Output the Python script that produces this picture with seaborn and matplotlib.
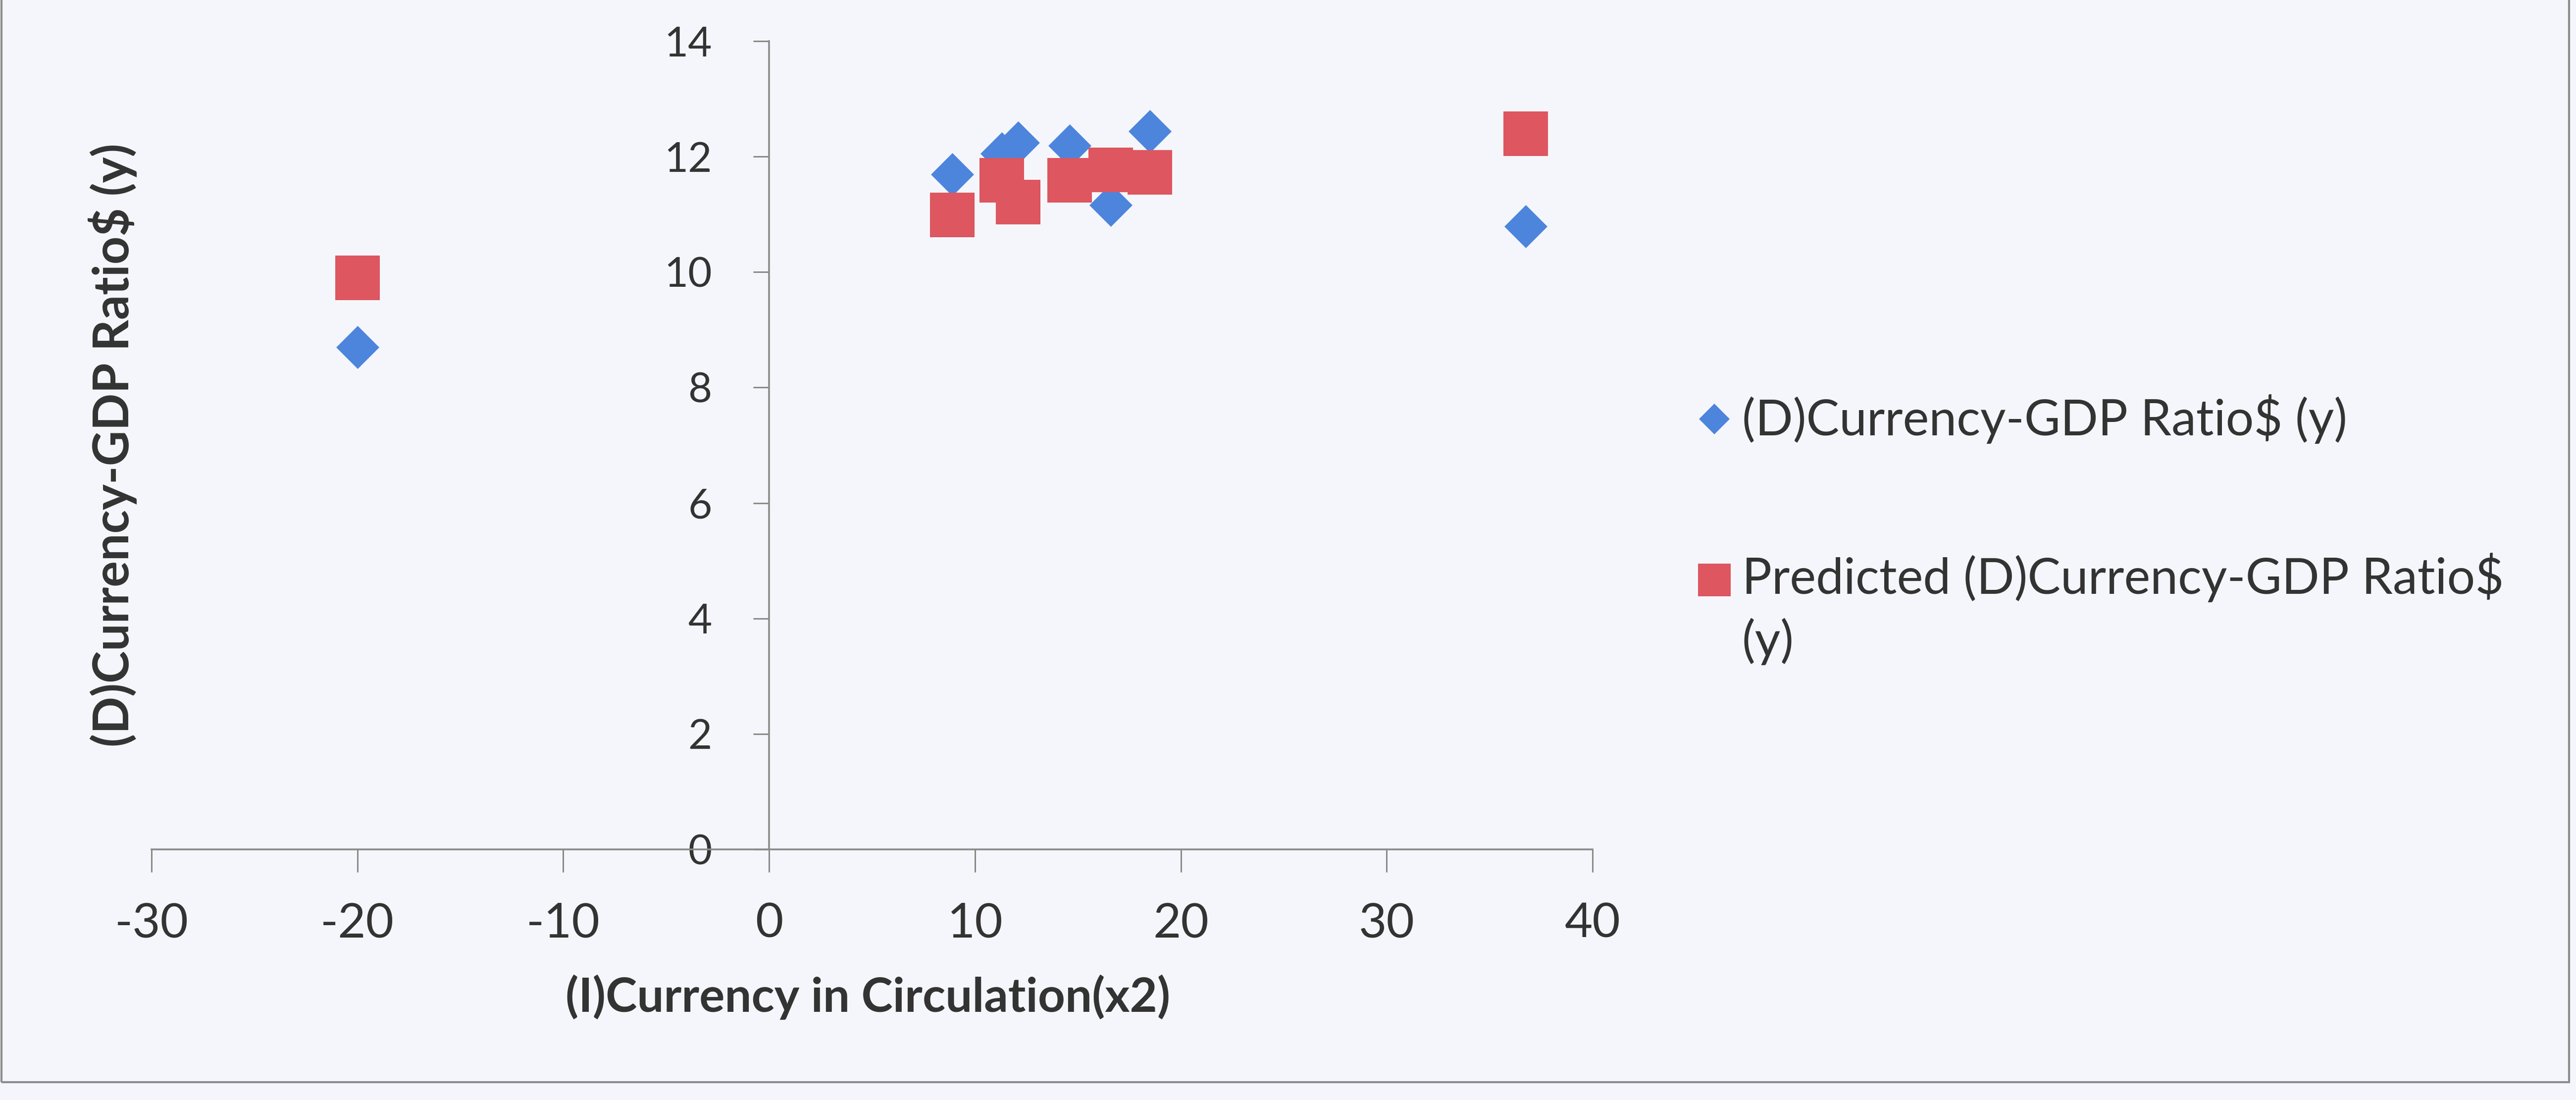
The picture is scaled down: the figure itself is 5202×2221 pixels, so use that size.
import matplotlib
matplotlib.use("Agg")
import matplotlib.pyplot as plt
import seaborn as sns
import pandas as pd
from matplotlib.lines import Line2D
from matplotlib.patches import Rectangle

# ---- data ----
x_values = [-20.0, 8.9, 11.3, 12.1, 14.6, 16.6, 18.5, 36.75]
actual_y = [8.70, 11.69, 12.05, 12.24, 12.19, 11.16, 12.44, 10.79]
predicted_y = [9.90, 10.99, 11.59, 11.21, 11.59, 11.77, 11.73, 12.40]
actual_label = "(D)Currency-GDP Ratio$ (y)"
predicted_label = "Predicted (D)Currency-GDP Ratio$\n(y)"
x_ticks = [-30, -20, -10, 0, 10, 20, 30, 40]
y_ticks = [0, 2, 4, 6, 8, 10, 12, 14]
x_title = "(I)Currency in Circulation(x2)"
y_title = "(D)Currency-GDP Ratio$ (y)"

df_actual = pd.DataFrame({"x": x_values, "y": actual_y})
df_pred = pd.DataFrame({"x": x_values, "y": predicted_y})

BLUE = "#4d85dc"
RED = "#dd5660"
AXIS = "#8a8a8a"
BG = "#f5f6fb"

sns.set_theme(style="white")
plt.rcParams["font.family"] = ["Lato", "DejaVu Sans"]

W, H = 5202, 2221
fig = plt.figure(figsize=(W / 100, H / 100), dpi=100, facecolor=BG)
ax = fig.add_axes([306 / W, 1 - 1715 / H, (3216 - 306) / W, (1715 - 83) / H])
ax.set_facecolor("none")

sns.scatterplot(data=df_actual, x="x", y="y", marker="D", s=1960, color=BLUE,
                linewidth=0, ax=ax, legend=False, zorder=3)
sns.scatterplot(data=df_pred, x="x", y="y", marker="s", s=4200, color=RED,
                linewidth=0, ax=ax, legend=False, zorder=4)

ax.set_xlim(-30, 40)
ax.set_ylim(0, 14)
ax.set_xticks(x_ticks)
ax.set_yticks(y_ticks)
ax.set_xticklabels([str(v) for v in x_ticks])
ax.set_yticklabels([str(v) for v in y_ticks], family=["DejaVu Serif"])

for s in ["top", "right"]:
    ax.spines[s].set_visible(False)
ax.spines["left"].set_position(("data", 0))
for s in ["left", "bottom"]:
    ax.spines[s].set_color(AXIS)
    ax.spines[s].set_linewidth(2.6)

ax.tick_params(axis="x", direction="out", length=33, width=2.2, color=AXIS,
               pad=44, labelsize=70, labelcolor="#333333", bottom=True)
ax.tick_params(axis="y", direction="out", length=23, width=2.2, color=AXIS,
               pad=60, labelsize=60, labelcolor="#333333", left=True)

ax.set_xlabel(x_title, fontsize=69, fontweight="bold", color="#333333")
ax.set_ylabel(y_title, fontsize=71, fontweight="bold", color="#333333")
ax.xaxis.set_label_coords(0.497, -0.155)
ax.yaxis.set_label_coords(-0.01, 0.5)
ax.xaxis.label.set_verticalalignment("top")
ax.grid(False)

# ---- legend (drawn manually to match layout) ----
fig.add_artist(Line2D([3462 / W], [1 - 846 / H], transform=fig.transFigure,
                      marker="D", markersize=32, color=BLUE, linestyle="none",
                      markeredgewidth=0))
fig.text(3518 / W, 1 - 846 / H, actual_label, fontsize=72, color="#333333",
         va="center", ha="left")
fig.add_artist(Line2D([3462 / W], [1 - 1171 / H], transform=fig.transFigure,
                      marker="s", markersize=48, color=RED, linestyle="none",
                      markeredgewidth=0))
fig.text(3518 / W, 1 - 1116 / H, predicted_label, fontsize=72, color="#333333",
         va="top", ha="left", linespacing=1.4)

# ---- chart-area border ----
fig.add_artist(Rectangle((3 / W, 1 - 2185 / H), (5188 - 3) / W, 1.2,
                         transform=fig.transFigure, fill=False,
                         edgecolor="#8c8c8c", linewidth=3))

fig.savefig("out.png", dpi=100, facecolor=BG)
